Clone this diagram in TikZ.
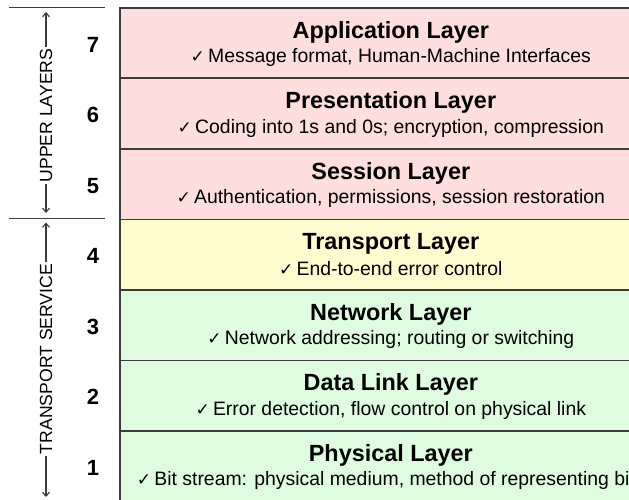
\documentclass[tikz,border=0pt]{standalone}
\usepackage{fontspec}
\setmainfont{Liberation Sans}
\newfontfamily\chkfont{DejaVu Sans}
\usetikzlibrary{arrows.meta}
\definecolor{upperpink}{RGB}{255,222,222}
\definecolor{transyellow}{RGB}{255,252,208}
\definecolor{lowergreen}{RGB}{224,252,224}
\definecolor{edgegray}{RGB}{60,60,60}
\newcommand{\chk}{{\chkfont\fontsize{17}{19}\selectfont ✓}\,}
\tikzset{
  layerbox/.style={draw=edgegray, line width=1.6pt, minimum width=542pt, minimum height=70.5pt, inner sep=0pt, anchor=north west},
  layertitle/.style={font=\bfseries\fontsize{23.4}{26}\selectfont, inner sep=0pt},
  layersub/.style={font=\fontsize{19.4}{22}\selectfont, inner sep=0pt},
  layernum/.style={font=\bfseries\fontsize{22}{24}\selectfont, inner sep=0pt},
  grouplabel/.style={font=\fontsize{17.6}{20}\selectfont, rotate=90, fill=white, inner sep=2pt},
  grouparrow/.style={line width=1.1pt, draw=edgegray, {Straight Barb[length=4pt,width=7pt]}-{Straight Barb[length=4pt,width=7pt]}},
  sepline/.style={line width=1pt, draw=edgegray}
}
\begin{document}
\begin{tikzpicture}[x=1pt,y=-1pt]
\useasboundingbox (0,0) rectangle (629,500);
\clip (0,0) rectangle (629,500);
% layer boxes
\node[layerbox, fill=upperpink]   (b7) at (119,7) {};
\node[layerbox, fill=upperpink]   (b6) at (119,77.5) {};
\node[layerbox, fill=upperpink]   (b5) at (119,148) {};
\node[layerbox, fill=transyellow] (b4) at (119,218.5) {};
\node[layerbox, fill=lowergreen]  (b3) at (119,289) {};
\node[layerbox, fill=lowergreen]  (b2) at (119,359.5) {};
\node[layerbox, fill=lowergreen]  (b1) at (119,430) {};
% titles and descriptions
\foreach \n/\t/\s in {7/Application Layer/Message format{,} Human-Machine Interfaces,
  6/Presentation Layer/Coding into 1s and 0s; encryption{,} compression,
  5/Session Layer/Authentication{,} permissions{,} session restoration,
  4/Transport Layer/End-to-end error control,
  3/Network Layer/Network addressing; routing or switching,
  2/Data Link Layer/Error detection{,} flow control on physical link,
  1/Physical Layer/Bit stream: physical medium{,} method of representing bits}{
  \node[layertitle] (t\n) at ([yshift=-25pt]b\n.north) {\t};
  \node[layersub] (s\n) at ([yshift=-50.5pt]b\n.north) {\chk\s};
  \node[layernum] (n\n) at ([xshift=-26pt,yshift=-1.5pt]b\n.west) {\n};
}
% group separators
\coordinate (sa) at (9,8);
\coordinate (sb) at (105,8);
\coordinate (sc) at (9,218);
\coordinate (sd) at (105,218);
\draw[sepline] (sa) -- (sb);
\draw[sepline] (sc) -- (sd);
% group arrows
\coordinate (ua) at (46,12);
\coordinate (ub) at (46,213);
\coordinate (ta) at (46,222.5);
\coordinate (tb) at (46,497);
\draw[grouparrow] (ua) -- (ub);
\draw[grouparrow] (ta) -- (tb);
\node[grouplabel] (gu) at (46,115.5) {UPPER LAYERS};
\node[grouplabel] (gt) at (46,359) {TRANSPORT SERVICE};
\end{tikzpicture}
\end{document}
